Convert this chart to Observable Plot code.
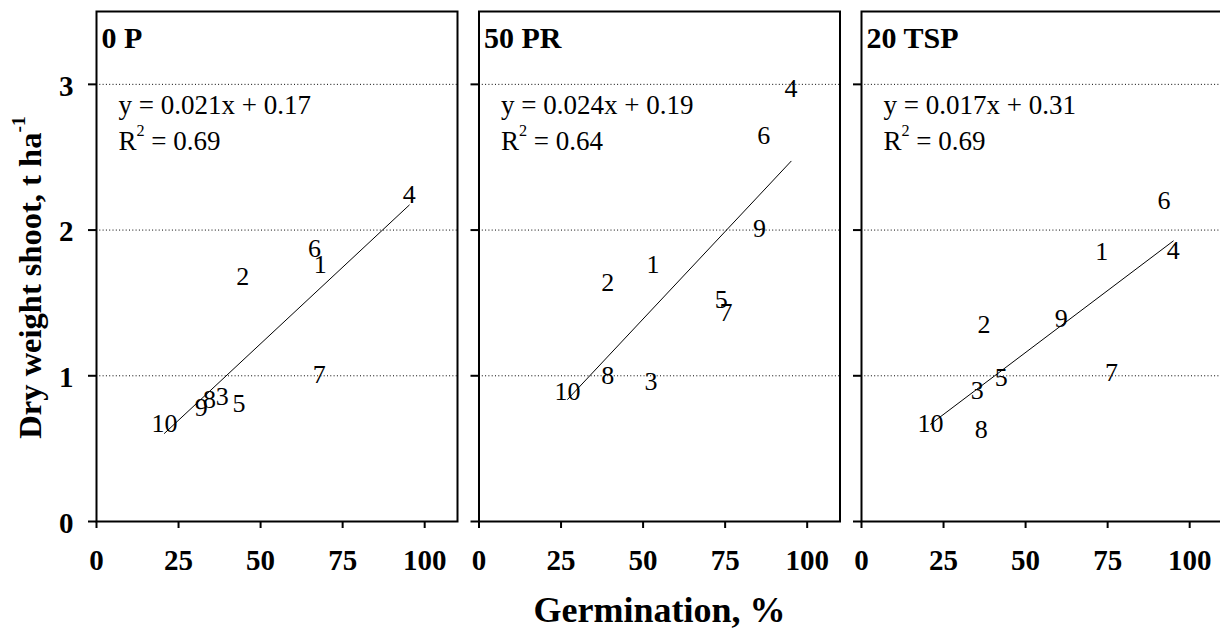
<!DOCTYPE html>
<html>
<head>
<meta charset="utf-8">
<script src="https://cdn.jsdelivr.net/npm/d3@7"></script>
<script src="https://cdn.jsdelivr.net/npm/@observablehq/plot@0.6"></script>
<style>
  html, body { margin: 0; padding: 0; background: #fff; overflow: hidden; }
  #chart { width: 1220px; height: 628px; overflow: hidden; }
</style>
</head>
<body>
<div id="chart"></div>
<script>
// Phosphorus treatments, one panel each
const panels = ["0 P", "50 PR", "20 TSP"];
// Genotype numbers used as point labels
const genotypes = ["1", "2", "3", "4", "5", "6", "7", "8", "9", "10"];

// Germination (%) and shoot dry weight (t/ha) per genotype, in genotype order
const germination0P   = [68.2, 44.6, 38.3, 95.3, 43.4, 66.4, 67.9, 34.4, 31.9, 20.7];
const shoot0P         = [1.76, 1.68, 0.86, 2.24, 0.81, 1.87, 1.01, 0.835, 0.78, 0.67];
const germination50PR = [53.0, 39.2, 52.4, 95.1, 73.8, 86.8, 75.3, 39.2, 85.5, 27.0];
const shoot50PR       = [1.76, 1.64, 0.96, 2.97, 1.52, 2.65, 1.43, 1.00, 2.01, 0.89];
const germination20TSP = [73.2, 37.3, 35.3, 95.0, 42.6, 92.2, 76.2, 36.5, 60.9, 21.0];
const shoot20TSP       = [1.85, 1.35, 0.90, 1.86, 0.99, 2.20, 1.02, 0.63, 1.39, 0.67];

// Linear fits as reported on each panel
const slopes = [0.021, 0.024, 0.017];
const intercepts = [0.17, 0.19, 0.31];
const rSquared = [0.69, 0.64, 0.69];

// Axis ticks
const xTicks = [0, 25, 50, 75, 100];
const yTicks = [0, 1, 2, 3];
const yGrid = [1, 2, 3];

const xLabel = "Germination, %";
const yLabel = "Dry weight shoot, t ha^{-1}";

const germination = [germination0P, germination50PR, germination20TSP];
const shoot = [shoot0P, shoot50PR, shoot20TSP];

const points = panels.flatMap((panel, p) =>
  genotypes.map((g, i) => ({panel, label: g, x: germination[p][i], y: shoot[p][i]}))
);

const fits = panels.flatMap((panel, p) => {
  const [lo, hi] = d3.extent(germination[p]);
  return [lo, hi].map(x => ({panel, x, y: slopes[p] * x + intercepts[p]}));
});

const equations = panels.map((panel, p) => ({
  panel,
  text: `y = ${slopes[p].toFixed(3)}x + ${intercepts[p].toFixed(2)}\nR^{2} = ${rSquared[p].toFixed(2)}`
}));

const serif = "'Liberation Serif', 'Times New Roman', Times, serif";

const chart = Plot.plot({
  width: 1222,
  height: 628,
  marginLeft: 96,
  marginRight: 0,
  marginTop: 11,
  marginBottom: 107,
  style: {fontFamily: serif, color: "black", background: "white", maxWidth: "none", overflow: "visible"},
  fx: {domain: panels, paddingInner: 0.0562, paddingOuter: 0, axis: null, label: null, round: false},
  x: {domain: [0, 110]},
  y: {domain: [0, 3.5]},
  marks: [
    Plot.gridY(yGrid, {stroke: "black", strokeOpacity: 1, strokeWidth: 1, strokeDasharray: "1,2.3"}),
    Plot.frame({stroke: "black", strokeWidth: 2}),
    // tick stubs on every panel
    Plot.axisY(yTicks, {facetAnchor: null, tickSize: 8, tickFormat: () => "", strokeWidth: 2, label: null}),
    // tick labels on the leftmost panel only
    Plot.axisY(yTicks, {tickSize: 0, tickPadding: 23, tickFormat: d => String(d), fontSize: 29, fontWeight: "bold", label: null, dy: 2}),
    Plot.axisX(xTicks, {tickSize: 7, tickPadding: 21, tickFormat: d => String(d), fontSize: 29, fontWeight: "bold", strokeWidth: 2, label: null}),
    Plot.line(fits, {x: "x", y: "y", z: "panel", fx: "panel", stroke: "black", strokeWidth: 1}),
    Plot.text(points, {x: "x", y: "y", text: "label", fx: "panel", fontSize: 26, fill: "black"}),
    Plot.text(equations, {
      fx: "panel", text: "text", frameAnchor: "top-left", textAnchor: "start", lineAnchor: "top",
      dx: 22, dy: 78, fontSize: 27, lineHeight: 1.3, fill: "black"
    }),
    Plot.text(panels, {
      fx: d => d, text: d => d, frameAnchor: "top-left", textAnchor: "start", lineAnchor: "top",
      dx: 5, dy: 15.5, fontSize: 30, fontWeight: "bold", fill: "black"
    }),
    Plot.text([yLabel], {
      fx: () => panels[0], text: d => d, frameAnchor: "left", rotate: -90, lineAnchor: "bottom",
      textAnchor: "middle", dx: -55.5, dy: 11, fontSize: 32.5, fontWeight: "bold", fill: "black"
    }),
    Plot.text([xLabel], {
      fx: () => panels[1], text: d => d, frameAnchor: "bottom", lineAnchor: "bottom",
      dy: 100, fontSize: 36, fontWeight: "bold", fill: "black"
    })
  ]
});

document.getElementById("chart").appendChild(chart);

// Turn "^{...}" runs into raised, smaller tspans
const svgNS = "http://www.w3.org/2000/svg";
chart.querySelectorAll("text").forEach(t => {
  const nodes = t.querySelector("tspan") ? [...t.querySelectorAll("tspan")] : [t];
  nodes.forEach(node => {
    const m = node.textContent.match(/^(.*)\^\{(.*)\}(.*)$/);
    if (!m) return;
    const size = parseFloat(getComputedStyle(node).fontSize) || 26;
    const raise = size * 0.5;
    node.textContent = m[1];
    const sup = document.createElementNS(svgNS, "tspan");
    sup.setAttribute("dy", -raise);
    sup.setAttribute("font-size", size * 0.6);
    sup.textContent = m[2];
    node.appendChild(sup);
    if (m[3]) {
      const rest = document.createElementNS(svgNS, "tspan");
      rest.setAttribute("dy", raise);
      rest.textContent = m[3];
      node.appendChild(rest);
    }
  });
});
</script>
</body>
</html>
